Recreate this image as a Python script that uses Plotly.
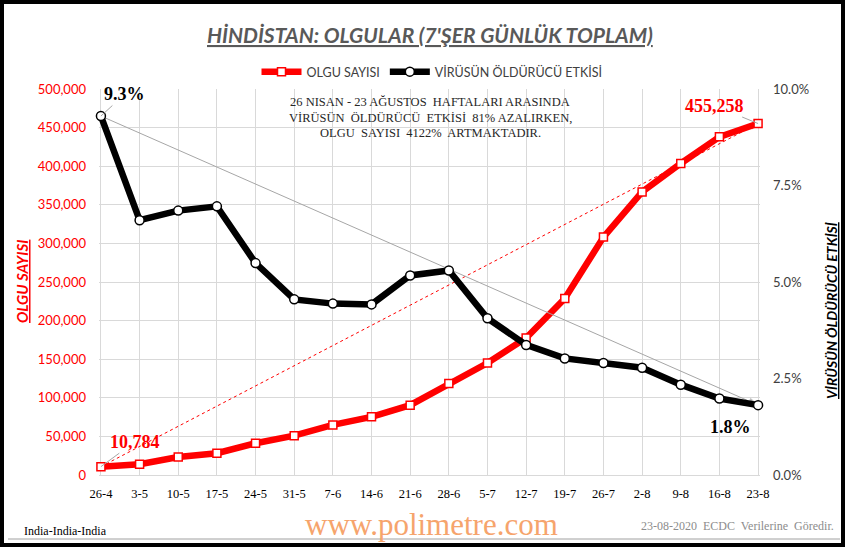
import plotly.graph_objects as go

weeks = ["26-4", "3-5", "10-5", "17-5", "24-5", "31-5", "7-6", "14-6", "21-6", "28-6",
         "5-7", "12-7", "19-7", "26-7", "2-8", "9-8", "16-8", "23-8"]
cases = [10784, 13900, 23400, 28200, 41100, 51000, 64900, 75300, 90500, 118600,
         145000, 177500, 228600, 308200, 366600, 403500, 438000, 455258]
lethality_pct = [9.3, 6.60, 6.85, 6.96, 5.49, 4.55, 4.44, 4.42, 5.17, 5.30,
                 4.06, 3.37, 3.02, 2.90, 2.78, 2.34, 1.98, 1.81]
lethality = [v / 100 for v in lethality_pct]

left_ticks = [0, 50000, 100000, 150000, 200000, 250000, 300000, 350000, 400000, 450000, 500000]
right_ticks = [0, 0.025, 0.05, 0.075, 0.10]

W, H = 845, 548
PL, PR, PT, PB = 99, 760, 89, 475


def px(x, y):
    return (x - PL) / (PR - PL), (PB - y) / (PB - PT)


SERIF = "Liberation Serif"
SANS = "Lato"

fig = go.Figure()

# trend connectors (first -> last)
fig.add_trace(go.Scatter(
    x=[weeks[0], weeks[-1]], y=[cases[0], cases[-1]], mode="lines+markers",
    line=dict(color="#ff0000", width=1, dash="dot"),
    marker=dict(symbol="arrow", angleref="previous", size=[0, 9], color="#ff0000"),
    showlegend=False, hoverinfo="skip", cliponaxis=False))
fig.add_trace(go.Scatter(
    x=[weeks[0], weeks[-1]], y=[lethality[0], lethality[-1]], yaxis="y2", mode="lines+markers",
    line=dict(color="#a6a6a6", width=1),
    marker=dict(symbol="arrow", angleref="previous", size=[0, 10], color="#7f7f7f"),
    showlegend=False, hoverinfo="skip", cliponaxis=False))

fig.add_trace(go.Scatter(
    x=weeks, y=cases, name="OLGU SAYISI", mode="lines+markers",
    line=dict(color="#ff0000", width=6.5),
    marker=dict(symbol="square", size=8, color="white", line=dict(color="#ff0000", width=1.5)),
    cliponaxis=False))
fig.add_trace(go.Scatter(
    x=weeks, y=lethality, name="VİRÜSÜN ÖLDÜRÜCÜ ETKİSİ", mode="lines+markers", yaxis="y2",
    line=dict(color="#000000", width=6.5),
    marker=dict(symbol="circle", size=9, color="white", line=dict(color="#000000", width=1.5)),
    cliponaxis=False))

annotations = []


def paper_text(x, y, text, font, xanchor="center", **kw):
    px_, py_ = px(x, y)
    d = dict(x=px_, y=py_, xref="paper", yref="paper", showarrow=False, text=text,
             font=font, xanchor=xanchor, yanchor="middle")
    d.update(kw)
    annotations.append(d)


paper_text(430, 35, "<b><i><u>HİNDİSTAN: OLGULAR (7'ŞER GÜNLÜK TOPLAM)</u></i></b>",
           dict(family=SANS, size=21, color="#595959"))

for i, line in enumerate(["26 NISAN - 23 AĞUSTOS  HAFTALARI ARASINDA",
                          "VİRÜSÜN  ÖLDÜRÜCÜ  ETKİSİ  81% AZALIRKEN,",
                          "OLGU  SAYISI  4122%  ARTMAKTADIR."]):
    paper_text(430, 102 + i * 15.5, line, dict(family=SERIF, size=12.5, color="#262626"))

paper_text(22, 282, "<b><i><u>OLGU SAYISI</u></i></b>",
           dict(family=SANS, size=15, color="#ff0000"), textangle=-90)
paper_text(831, 311, "<b><i><u>VİRÜSÜN ÖLDÜRÜCÜ ETKİSİ</u></i></b>",
           dict(family=SANS, size=14, color="#000000"), textangle=-90)

# data labels
annotations.append(dict(x=weeks[0], y=lethality[0], xref="x", yref="y2", text="<b>9.3%</b>",
                        showarrow=True, arrowhead=0, arrowwidth=1, arrowcolor="#a6a6a6",
                        ax=24, ay=-22, font=dict(family=SERIF, size=18, color="#000000")))
annotations.append(dict(x=weeks[0], y=cases[0], xref="x", yref="y", text="<b>10,784</b>",
                        showarrow=True, arrowhead=0, arrowwidth=1, arrowcolor="#a6a6a6",
                        ax=34, ay=-25, font=dict(family=SERIF, size=18, color="#ff0000")))
annotations.append(dict(x=weeks[-1], y=cases[-1], xref="x", yref="y", text="<b>455,258</b>",
                        showarrow=True, arrowhead=0, arrowwidth=1, arrowcolor="#a6a6a6",
                        ax=-44, ay=-18, font=dict(family=SERIF, size=18, color="#ff0000")))
annotations.append(dict(x=weeks[-1], y=lethality[-1], xref="x", yref="y2", text="<b>1.8%</b>",
                        showarrow=False, xshift=-28, yshift=-22,
                        font=dict(family=SERIF, size=18, color="#000000")))

# footer
paper_text(22, 531, "India-India-India", dict(family=SERIF, size=12, color="#000000"), xanchor="left")
paper_text(431, 524, "www.polimetre.com", dict(family=SERIF, size=31, color="#f6a46c"))
paper_text(836, 526, "23-08-2020  ECDC  Verilerine  Göredir.",
           dict(family=SERIF, size=12, color="#8c8c8c"), xanchor="right")

x0, y0 = px(2, 2)
x1, y1 = px(843, 545)
shapes = [dict(type="rect", xref="paper", yref="paper", x0=x0, y0=y1, x1=x1, y1=y0,
               line=dict(color="#000000", width=4), layer="above")]
gx0, gy = px(8, 539)
gx1, _ = px(840, 539)
shapes.append(dict(type="line", xref="paper", yref="paper", x0=gx0, x1=gx1, y0=gy, y1=gy,
                   line=dict(color="#a0a0a0", width=1)))

lx, ly = px(432, 72)

fig.update_layout(
    width=W, height=H,
    margin=dict(l=PL, r=W - PR, t=PT, b=H - PB, pad=0, autoexpand=False),
    paper_bgcolor="white", plot_bgcolor="white",
    showlegend=True,
    legend=dict(orientation="h", x=lx, y=ly, xanchor="center", yanchor="middle",
                font=dict(family=SANS, size=12.5, color="#404040"), bgcolor="rgba(0,0,0,0)",
                itemwidth=40, tracegroupgap=0),
    xaxis=dict(type="category", categoryorder="array", categoryarray=weeks,
               range=[-0.05, len(weeks) - 1 + 0.05], showgrid=True,
               gridcolor="#d9d9d9", gridwidth=1, showline=True, linecolor="#d9d9d9",
               ticks="", ticklabelstandoff=7,
               tickfont=dict(family=SERIF, size=12.5, color="#000000"), zeroline=False),
    yaxis=dict(range=[0, 500000], tickvals=left_ticks, tickformat=",", showgrid=True,
               gridcolor="#d9d9d9", gridwidth=1, zeroline=False, ticks="", ticklabelstandoff=12,
               tickfont=dict(family=SANS, size=13, color="#ff0000"), showline=False),
    yaxis2=dict(range=[0, 0.10], tickvals=right_ticks, tickformat=".1%", overlaying="y",
                side="right", showgrid=False, zeroline=False, ticks="", ticklabelstandoff=12,
                tickfont=dict(family=SANS, size=13, color="#404040")),
    annotations=annotations,
    shapes=shapes,
)

fig.write_html("out.html", config={"displayModeBar": False},
               post_script="document.body.style.margin='0px';document.body.style.overflow='hidden';")
